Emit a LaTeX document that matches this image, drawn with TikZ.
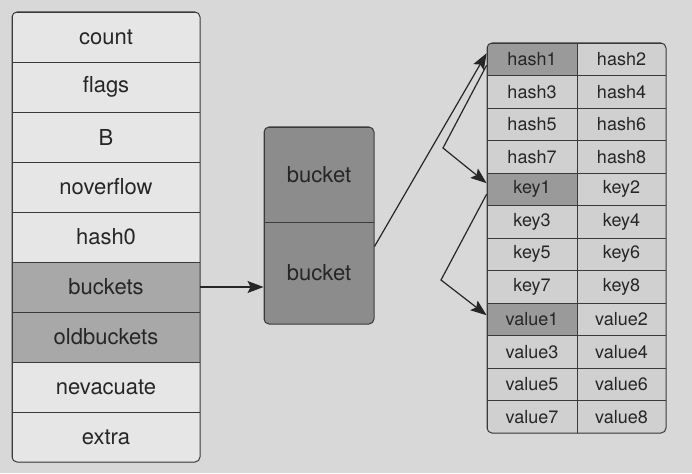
\documentclass[tikz,border=0pt]{standalone}
\usepackage{fontspec}
\setmainfont{TeX Gyre Heros}
\usetikzlibrary{arrows.meta,calc}
\definecolor{pagebg}{HTML}{D8D8D8}
\definecolor{cellw}{HTML}{E6E6E6}
\definecolor{celld}{HTML}{A8A8A8}
\definecolor{bucketc}{HTML}{8C8C8C}
\definecolor{cellr}{HTML}{D0D0D0}
\definecolor{cellrd}{HTML}{9A9A9A}
\definecolor{linec}{HTML}{3A3A3A}
\tikzset{
  lcell/.style={draw=linec, line width=0.9pt, fill=cellw, minimum width=188pt, minimum height=50pt, inner sep=0pt, font=\fontsize{22}{24}\selectfont, text=black!85},
  lcelld/.style={lcell, fill=celld},
  bcell/.style={draw=linec, line width=0.9pt, fill=bucketc, minimum width=110pt, inner sep=0pt, font=\fontsize{22}{24}\selectfont, text=black!85},
  rcell/.style={draw=linec, line width=0.8pt, fill=cellr, minimum height=32.5pt, inner sep=0pt, font=\fontsize{18}{20}\selectfont, text=black!85},
  rcellA/.style={rcell, minimum width=90pt},
  rcellB/.style={rcell, minimum width=89pt},
  outline/.style={draw=linec, line width=1pt, rounded corners=5pt},
  conn/.style={draw=black!85, line width=1.2pt, -{Stealth[length=16pt,width=12pt,inset=3pt]}}
}
\begin{document}
\begin{tikzpicture}[x=1pt,y=-1pt]
\fill[pagebg] (0,0) rectangle (692,473);
\useasboundingbox (0,0) rectangle (692,473);
% left table
\begin{scope}
\clip[rounded corners=5pt] (12,12) rectangle (200,462);
\foreach \t/\n [count=\i from 0] in {count/count,flags/flags,B/B,noverflow/noverflow,hash0/hashz,buckets/buckets,oldbuckets/oldbuckets,nevacuate/nevacuate,extra/extra}{
  \ifnum\i=5 \node[lcelld] (\n) at (106,37+50*\i) {\t};
  \else\ifnum\i=6 \node[lcelld] (\n) at (106,37+50*\i) {\t};
  \else \node[lcell] (\n) at (106,37+50*\i) {\t};\fi\fi
}
\end{scope}
\draw[outline] (12,12) rectangle (200,462);
% middle buckets
\begin{scope}
\clip[rounded corners=5pt] (264,127) rectangle (374,324);
\node[bcell, minimum height=95pt] (bucketA) at (319,174.5) {bucket};
\node[bcell, minimum height=102pt] (bucketB) at (319,273) {bucket};
\end{scope}
\draw[outline] (264,127) rectangle (374,324);
% right table
\begin{scope}
\clip[rounded corners=5pt] (487,43) rectangle (666,433);
\foreach \a/\b/\na/\nb [count=\i from 0] in {hash1/hash2/h1/h2,hash3/hash4/h3/h4,hash5/hash6/h5/h6,hash7/hash8/h7/h8,key1/key2/k1/k2,key3/key4/k3/k4,key5/key6/k5/k6,key7/key8/k7/k8,value1/value2/v1/v2,value3/value4/v3/v4,value5/value6/v5/v6,value7/value8/v7/v8}{
  \ifnum\i=0 \node[rcellA, fill=cellrd] (\na) at (532,59.25+32.5*\i) {\a};
  \else\ifnum\i=4 \node[rcellA, fill=cellrd] (\na) at (532,59.25+32.5*\i) {\a};
  \else\ifnum\i=8 \node[rcellA, fill=cellrd] (\na) at (532,59.25+32.5*\i) {\a};
  \else \node[rcellA] (\na) at (532,59.25+32.5*\i) {\a};\fi\fi\fi
  \node[rcellB] (\nb) at (621.5,59.25+32.5*\i) {\b};
}
\end{scope}
\draw[outline] (487,43) rectangle (666,433);
% connectors
\draw[conn] (buckets.east) -- (bucketB.west |- buckets.east);
\draw[conn] ($(bucketB.north east)+(0,25)$) -- ($(h1.west)+(0,-6)$);
\coordinate (bend1) at (443,148);
\coordinate (bend2) at (441,280);
\draw[conn] ($(h1.west)+(0,6)$) -- (bend1) -- ($(k1.west)+(0,-6)$);
\draw[conn] ($(k1.west)+(0,5)$) -- (bend2) -- ($(v1.west)+(0,-4)$);
\end{tikzpicture}
\end{document}
